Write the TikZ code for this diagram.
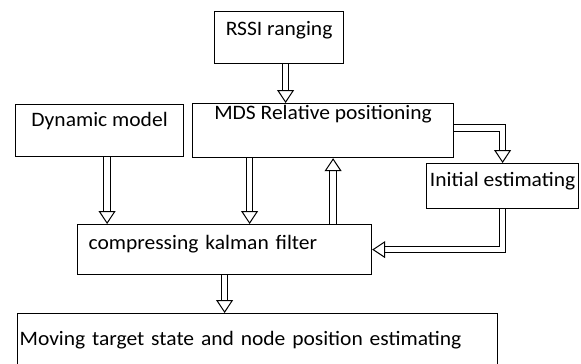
\documentclass[tikz,border=0pt]{standalone}
\usepackage{fontspec}
\setmainfont{Carlito}[FakeStretch=1.05]
\usetikzlibrary{arrows.meta}
\begin{document}
\begin{tikzpicture}[x=1pt,y=1pt,line join=miter,
		blk/.style={draw,line width=1.2pt,inner ysep=0pt,inner xsep=1pt,anchor=north west,font=\fontsize{20.5}{22}\selectfont},
		dbl/.style={draw,line width=1pt,double=white,double distance=5.5pt,-{Triangle[width=17pt,length=13pt,fill=white,line width=1pt]}}]
	\clip (0,0) rectangle (581,-364);
	% blocks
	\node[blk,minimum width=129pt,text height=24pt,text depth=28pt] (rssi) at (214,-11) {RSSI ranging};
	\node[blk,minimum width=261pt,text height=16pt,text depth=38pt] (mds) at (192,-103) {MDS Relative positioning};
	\node[blk,minimum width=168pt,text height=22pt,text depth=30pt] (dyn) at (15,-104) {Dynamic model};
	\node[blk,minimum width=152pt,text height=23pt,text depth=22pt] (init) at (426,-163) {Initial estimating};
	\node[blk,inner xsep=11pt,text width=272pt,align=left,text height=25pt,text depth=25pt] (kal) at (77,-224) {compressing kalman filter};
	\node[blk,inner xsep=2pt,text width=476pt,align=left,text height=32pt,text depth=60pt] (mov) at (17,-313) {Moving target state and node position estimating};
	% arrows
	\draw[dbl] ([xshift=6.5pt]rssi.south) -- ([xshift=6.5pt]rssi.south |- mds.north);
	\draw[dbl] ([xshift=7.5pt]dyn.south) -- ([xshift=7.5pt]dyn.south |- kal.north);
	\draw[dbl] ([xshift=-73.5pt]mds.south) -- ([xshift=-73.5pt]mds.south |- kal.north);
	\draw[dbl] ([xshift=10pt]mds.south |- kal.north) -- ([xshift=10pt]mds.south);
	\draw[dbl] ([yshift=2.5pt]mds.east) -| (init.north);
	\draw[dbl] (init.south) |- (kal.east);
	\draw[dbl] (kal.south) -- (kal.south |- mov.north);
\end{tikzpicture}
\end{document}
